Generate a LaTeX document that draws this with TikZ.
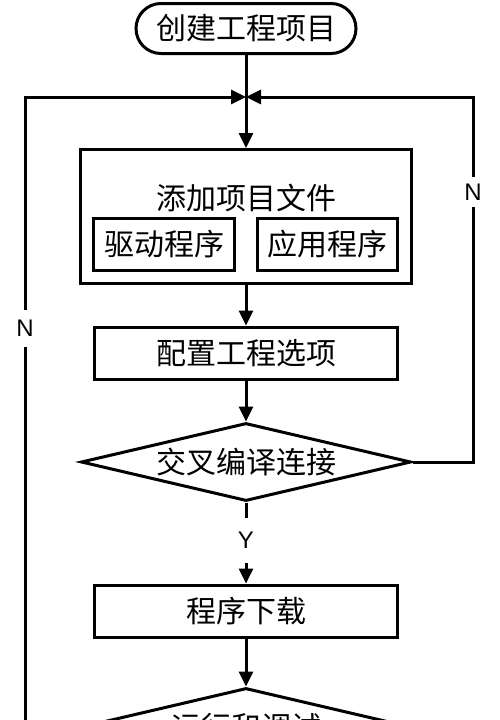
\documentclass[tikz,border=0pt]{standalone}
\usepackage{fontspec}
\setmainfont{Noto Sans CJK SC}
\newfontfamily\latinfont{Liberation Sans}
\usetikzlibrary{arrows.meta,shapes.geometric,shapes.misc}
\begin{document}
\begin{tikzpicture}[x=1pt,y=-1pt,line width=3pt,
  every node/.style={font=\fontsize{30}{36}\selectfont,inner sep=0pt},
  box/.style={draw,rectangle,minimum width=#1,minimum height=52pt},
  dec/.style={draw,diamond,minimum width=330pt,minimum height=78pt,aspect=4},
  term/.style={draw,rounded rectangle,minimum width=220pt,minimum height=50pt},
  arr/.style={-{Triangle[length=15pt,width=14pt]}},
  lab/.style={fill=white,font=\latinfont\fontsize{24}{28}\selectfont,inner sep=0pt,minimum width=18pt}]
\useasboundingbox (0,0) rectangle (500,720);
\clip (0,0) rectangle (500,720);
\node[term] (start) at (246,28.5) {创建工程项目};
\coordinate (m) at (246,97);
\node[draw,minimum width=331pt,minimum height=134pt] (add) at (246,216.5) {};
\node (addt) at (246,198) {添加项目文件};
\node[box=141pt] (drv) at (164,244.5) {驱动程序};
\node[box=140pt] (app) at (327.5,244.5) {应用程序};
\node[box=303pt] (cfg) at (246,353) {配置工程选项};
\node[dec] (d1) at (246,462) {交叉编译连接};
\node[box=303pt] (dl) at (246,611) {程序下载};
\node[dec] (d2) at (246,727) {运行和调试};
\coordinate (rc) at (473,462);
\coordinate (rt) at (473,97);
\coordinate (lt) at (25,97);
\coordinate (lb) at (25,780);
\draw[arr] (start.south) -- (add.north);
\draw[arr] (d1.east) -- (rc) -- (rt) -- (m);
\draw[arr] (lb) -- (lt) -- (m);
\draw[arr] (add.south) -- (cfg.north);
\draw[arr] (cfg.south) -- (d1.north);
\draw[arr] (d1.south) -- (dl.north);
\draw[arr] (dl.south) -- (d2.north);
\node[lab,minimum height=30pt] (nr) at (473,192) {N};
\node[lab,minimum height=37pt] (nl) at (25,328) {N};
\node[lab,minimum height=45pt] (y) at (246,540) {Y};
\end{tikzpicture}
\end{document}
